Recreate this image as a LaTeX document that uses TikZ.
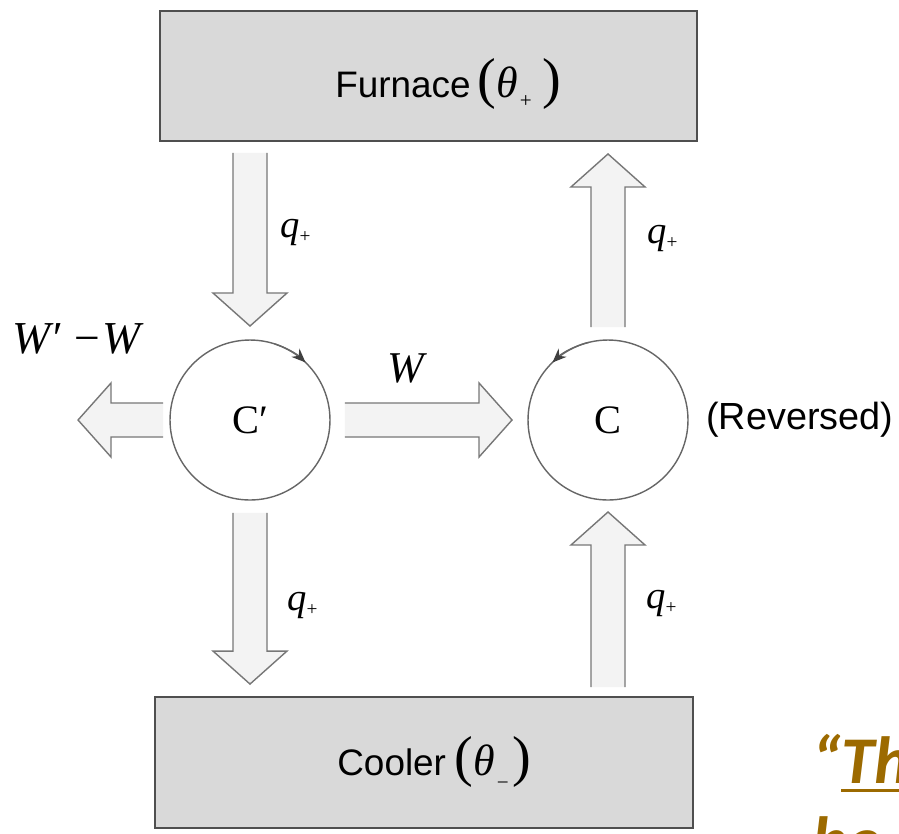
\documentclass[tikz,border=0pt]{standalone}
\usepackage{fontspec}
\setmainfont{Liberation Sans}
\newfontfamily\tms{Liberation Serif}
\newfontfamily\slidefont{Carlito}
\usetikzlibrary{arrows.meta, calc, positioning}

\definecolor{boxfill}{HTML}{D9D9D9}
\definecolor{boxline}{HTML}{4F4F4F}
\definecolor{heatline}{HTML}{777777}
\definecolor{heatfill}{HTML}{F3F3F3}
\definecolor{cycline}{HTML}{666666}
\definecolor{slidegold}{HTML}{9C6A00}

% half width of shaft, half width of head, length of head
\newcommand{\shaftw}{0.34cm}
\newcommand{\headw}{0.74cm}
\newcommand{\headl}{0.66cm}

\newcommand{\qp}{q\raisebox{-3pt}{\upshape\fontsize{11}{11}\selectfont +}}
\newcommand{\bigpar}[1]{{\tms\upshape\fontsize{32}{32}\selectfont #1}}
\newcommand{\temp}[3]{\bigpar{(}{\tms\itshape\fontsize{25}{25}\selectfont θ}%
  \kern1pt\raisebox{#2}{\tms\fontsize{12}{12}\selectfont #1}\kern#3\bigpar{)}}
\newcommand{\ulined}[1]{\setbox0\hbox{#1}\rlap{\rule[-5.1pt]{\wd0}{1.6pt}}\box0}

\begin{document}
\begin{tikzpicture}[
    reservoir/.style={draw=boxline, fill=boxfill, line width=1.1pt,
      minimum width=10.75cm, minimum height=2.6cm},
    restext/.style={inner sep=0pt, anchor=base west, font=\fontsize{21}{21}\selectfont},
    engine/.style={circle, draw=cycline, line width=0.8pt, minimum size=3.2cm,
      inner sep=0pt, outer sep=0pt, font=\tms\fontsize{23}{23}\selectfont},
    heat/.style={draw=heatline, fill=heatfill, line width=0.8pt, to path={
        ($(\tikztostart)!\shaftw!90:(\tikztotarget)$)
        -- ($(\tikztotarget)!\headl!(\tikztostart)!\shaftw!-90:(\tikztostart)$)
        -- ($(\tikztotarget)!\headl!(\tikztostart)!\headw!-90:(\tikztostart)$)
        -- (\tikztotarget)
        -- ($(\tikztotarget)!\headl!(\tikztostart)!\headw!90:(\tikztostart)$)
        -- ($(\tikztotarget)!\headl!(\tikztostart)!\shaftw!90:(\tikztostart)$)
        -- ($(\tikztostart)!\shaftw!-90:(\tikztotarget)$)}},
    cyc/.style={draw=cycline, line width=0.8pt, -{Stealth[length=8pt,width=6.5pt,color=black!75]}},
    lbl/.style={inner sep=0pt, anchor=base west, font=\tms\itshape\fontsize{22}{22}\selectfont},
    slide/.style={inner sep=0pt, anchor=base west, text=slidegold,
      font=\slidefont\bfseries\itshape\fontsize{38}{38}\selectfont}
  ]
\begin{scope}[x=0.02cm,y=0.02cm]
    \useasboundingbox (0,0) rectangle (899,-833);
    \clip (0,0) rectangle (899,-833);

    % reservoirs
    \node[reservoir] (furnace) at (428.5,-76) {};
    \node[reservoir, minimum height=2.62cm] (cooler) at (424,-762.5) {};
    \node[restext] (furnacetxt) at (335,-97) {Furnace\kern4pt\temp{+}{-6pt}{6pt}};
    \node[restext] (coolertxt) at (337,-775) {Cooler\kern5pt\temp{−}{-8.5pt}{2pt}};

    % engines
    \node[engine] (engp) at (250,-420) {C′};
    \node[engine] (engr) at (608,-420) {C};
    \node[inner sep=0pt, font=\fontsize{21.5}{21.5}\selectfont, right=0.36cm of engr] (rev) {(Reversed)};

    \draw[cyc] (engp.72) arc[start angle=72, end angle=46, radius=1.6cm];
    \draw[cyc] (engr.104) arc[start angle=104, end angle=134, radius=1.6cm];

    % heat and work flows
    \coordinate (wout) at ($(engp.west)+(-92,0)$);
    \draw[heat] ($(furnace.south -| engp)+(0,-11)$) to ($(engp.north)+(0,14)$);
    \draw[heat] ($(engr.north)+(0,13)$) to ($(furnace.south -| engr)+(0,-12)$);
    \draw[heat] ($(engp.south)+(0,-13)$) to ($(cooler.north -| engp)+(0,12)$);
    \draw[heat] ($(cooler.north -| engr)+(0,9)$) to ($(engr.south)+(0,-12)$);
    \draw[heat] ($(engp.west)+(-7,0)$) to (wout);
    \draw[heat] ($(engp.east)+(15,0)$) to ($(engr.west)+(-16,0)$);

    % labels
    \node[lbl] (qa) at (280,-237) {\qp};
    \node[lbl] (qb) at (647,-243) {\qp};
    \node[lbl] (qc) at (287,-610) {\qp};
    \node[lbl] (qd) at (646,-608) {\qp};
    \node[lbl, font=\tms\itshape\fontsize{26}{26}\selectfont] (wnet) at (12,-353) {W′ −W};
    \node[lbl, font=\tms\itshape\fontsize{25}{25}\selectfont] (wlab) at (387,-382) {W};

    % cut off slide text
    \node[slide] (quote) at (812,-783) {“\ulined{Th}};
    \node[slide] (quote2) at (812,-863) {be};
\end{scope}
\end{tikzpicture}
\end{document}
